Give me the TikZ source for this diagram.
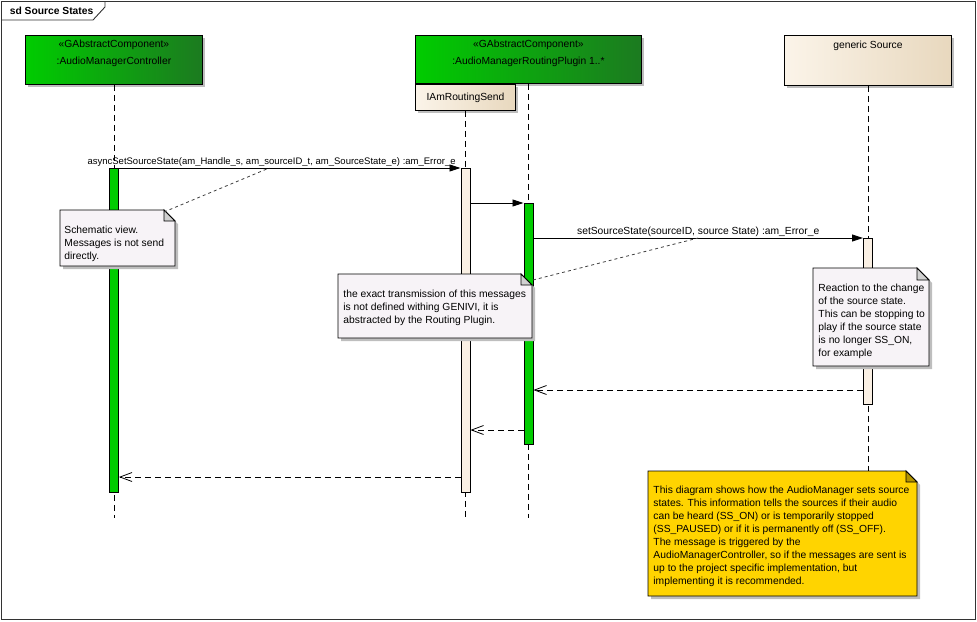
\documentclass[tikz,border=0pt]{standalone}
\usepackage{fontspec}
\setmainfont{Liberation Sans}
\usepackage{xcolor}
\usetikzlibrary{calc, positioning, arrows.meta, shadows}

\definecolor{compGreen}{RGB}{0,204,0}
\definecolor{compDark}{RGB}{28,122,32}
\definecolor{beigeL}{RGB}{251,244,233}
\definecolor{beigeR}{RGB}{232,216,190}
\definecolor{barBeige}{RGB}{250,240,228}
\definecolor{noteFill}{RGB}{247,243,247}
\definecolor{noteYellow}{RGB}{255,212,0}
\definecolor{shadowGray}{RGB}{190,190,190}
\definecolor{foldGray}{RGB}{208,208,208}

\begin{document}
\begin{tikzpicture}[x=1pt, y=-1pt, line width=0.9pt,
    font=\fontsize{10.3}{13}\selectfont,
    comp/.style={draw, anchor=north west, inner sep=0pt,
        drop shadow={shadow xshift=3pt, shadow yshift=-3pt, fill=shadowGray, opacity=1}},
    greenComp/.style={comp, left color=compGreen, right color=compDark},
    beigeComp/.style={comp, left color=beigeL, right color=beigeR},
    compText/.style={align=center, inner sep=0pt},
    act/.style={draw, minimum width=9pt, anchor=north, inner sep=0pt},
    lifeline/.style={dash pattern=on 6pt off 4pt, line width=0.8pt},
    msg/.style={-{Triangle[length=11pt,width=7pt]}},
    reply/.style={dash pattern=on 6pt off 4pt, line width=0.8pt,
        -{Straight Barb[length=12pt,width=9pt]}},
    noteLink/.style={dash pattern=on 3pt off 3pt, line width=0.8pt, black!75},
    noteText/.style={anchor=north west, align=left, inner sep=0pt}]
    \useasboundingbox (0,0) rectangle (977,621);

    % 1. Khung sd
    \draw[black!80] (1,1) rectangle (975,619);
    \draw[black!80] (1,20) -- (93,20) -- (105,7) -- (105,1);
    \node[anchor=west, font=\fontsize{10.3}{13}\selectfont\bfseries] (title) at (6,11) {sd Source States};

    % 2. Các mức thông điệp
    \coordinate (msgA) at (0,168);
    \coordinate (msgB) at (0,203);
    \coordinate (msgC) at (0,238);
    \coordinate (retC) at (0,390);
    \coordinate (retB) at (0,430);
    \coordinate (retA) at (0,477);
    \coordinate (lifeEnd) at (0,518);

    % 3. Các thành phần (lifeline heads)
    \node[greenComp, minimum width=177pt, minimum height=49pt] (ctrl) at (25,35) {};
    \node[compText, below=5pt of ctrl.north] (ctrlName) {«GAbstractComponent»\\[4pt]:AudioManagerController};

    \node[greenComp, minimum width=226pt, minimum height=48pt] (plug) at (415,35) {};
    \node[compText, below=5pt of plug.north] (plugName) {«GAbstractComponent»\\[4pt]:AudioManagerRoutingPlugin 1..*};

    \node[beigeComp, minimum width=100pt, minimum height=26pt] (ifc) at (415,84) {IAmRoutingSend};

    \node[beigeComp, minimum width=167pt, minimum height=50pt] (src) at (784,35) {};
    \node[compText, below=6pt of src.north] (srcName) {generic Source};

    % 4. Đường sống (lifelines)
    \draw[lifeline] (ctrl.south) -- (ctrl.south |- lifeEnd);
    \draw[lifeline] (ifc.south) -- (ifc.south |- lifeEnd);
    \draw[lifeline] (plug.south) -- (plug.south |- lifeEnd);
    \draw[lifeline] (src.south) -- (src.south |- lifeEnd);

    % 5. Thanh kích hoạt
    \node[act, fill=compGreen, minimum height=324pt] (ctrlAct) at (ctrl.south |- msgA) {};
    \node[act, fill=barBeige, minimum height=324pt] (sendAct) at (ifc.south |- msgA) {};
    \node[act, fill=compGreen, minimum height=241pt] (plugAct) at (plug.south |- msgB) {};
    \node[act, fill=barBeige, minimum height=166pt] (srcAct) at (src.south |- msgC) {};

    % 6. Thông điệp
    \draw[msg] (ctrlAct.north east) -- node[above, pos=0.447, inner sep=1pt, font=\fontsize{9.5}{13}\selectfont] (asyncLbl)
        {asyncSetSourceState(am\_Handle\_s, am\_sourceID\_t, am\_SourceState\_e) :am\_Error\_e} (sendAct.north west);
    \draw[msg] (sendAct.east |- plugAct.north) -- (plugAct.north west);
    \draw[msg] (plugAct.east |- srcAct.north) -- node[above, inner sep=1pt] (setLbl)
        {setSourceState(sourceID, source State) :am\_Error\_e} (srcAct.north west);

    % Các thông điệp trả về
    \draw[reply] (srcAct.west |- retC) -- (plugAct.east |- retC);
    \draw[reply] (plugAct.west |- retB) -- (sendAct.east |- retB);
    \draw[reply] (sendAct.west |- retA) -- (ctrlAct.east |- retA);

    % 7. Ghi chú 1
    \fill[shadowGray, shift={(3,3)}] (60,210) -- (164,210) -- (175,221) -- (175,266) -- (60,266) -- cycle;
    \filldraw[fill=noteFill] (60,210) -- (164,210) -- (175,221) -- (175,266) -- (60,266) -- cycle;
    \filldraw[fill=foldGray] (164,210) -- (164,221) -- (175,221) -- cycle;
    \node[noteText] (schemaNote) at (64,226) {Schematic view.\\Messages is not send\\directly.};
    \coordinate (schemaTip) at (164,212);
    \draw[noteLink] (schemaTip) -- ($(ctrlAct.north east)!0.44!(sendAct.north west)$);

    % Ghi chú 2
    \fill[shadowGray, shift={(3,3)}] (338,274) -- (521,274) -- (532,285) -- (532,338) -- (338,338) -- cycle;
    \filldraw[fill=noteFill] (338,274) -- (521,274) -- (532,285) -- (532,338) -- (338,338) -- cycle;
    \filldraw[fill=foldGray] (521,274) -- (521,285) -- (532,285) -- cycle;
    \node[noteText] (routeNote) at (343,290) {the exact transmission of this messages\\is not defined withing GENIVI, it is\\abstracted by the Routing Plugin.};
    \coordinate (routeTip) at (533,280);
    \draw[noteLink] (routeTip) -- ($(plugAct.east |- srcAct.north)!0.5!(srcAct.north west)$);

    % Ghi chú 3
    \fill[shadowGray, shift={(3,3)}] (813,268) -- (917,268) -- (929,280) -- (929,366) -- (813,366) -- cycle;
    \filldraw[fill=noteFill] (813,268) -- (917,268) -- (929,280) -- (929,366) -- (813,366) -- cycle;
    \filldraw[fill=foldGray] (917,268) -- (917,280) -- (929,280) -- cycle;
    \node[noteText] (reactNote) at (818,284) {Reaction to the change\\of the source state.\\This can be stopping to\\play if the source state\\is no longer SS\_ON,\\for example};

    % Ghi chú 4 (màu vàng)
    \fill[shadowGray, shift={(3,3)}] (648,471) -- (906,471) -- (917,482) -- (917,596) -- (648,596) -- cycle;
    \filldraw[fill=noteYellow] (648,471) -- (906,471) -- (917,482) -- (917,596) -- (648,596) -- cycle;
    \filldraw[fill=noteYellow!70!black] (906,471) -- (906,482) -- (917,482) -- cycle;
    \node[noteText] (infoNote) at (653,486) {This diagram shows how the AudioManager sets source\\states. This information tells the sources if their audio\\can be heard (SS\_ON) or is temporarily stopped\\(SS\_PAUSED) or if it is permanently off (SS\_OFF).\\The message is triggered by the\\AudioManagerController, so if the messages are sent is\\up to the project specific implementation, but\\implementing it is recommended.};
\end{tikzpicture}
\end{document}
